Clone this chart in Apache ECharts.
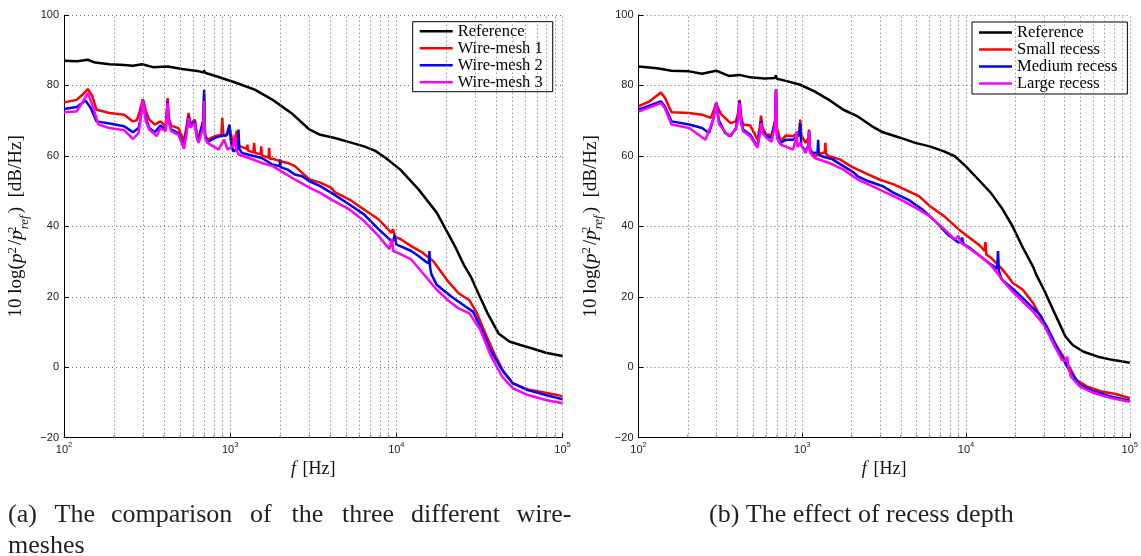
<!DOCTYPE html>
<html><head><meta charset="utf-8">
<script src="https://cdn.jsdelivr.net/npm/echarts@6/dist/echarts.min.js"></script>
<style>html,body{margin:0;padding:0;background:#fff}#c{width:1141px;height:556px}</style>
</head><body><div id="c"></div>
<script>
// ---------- DATA ----------
const namesA = ['Reference', 'Wire-mesh 1', 'Wire-mesh 2', 'Wire-mesh 3'];
const namesB = ['Reference', 'Small recess', 'Medium recess', 'Large recess'];
const gridFreqs = [200,300,400,500,600,700,800,900,1000,2000,3000,4000,5000,6000,7000,8000,9000,10000,20000,30000,40000,50000,60000,70000,80000,90000,100000];
const minorFreqs = [200,300,400,500,600,700,800,900,2000,3000,4000,5000,6000,7000,8000,9000,20000,30000,40000,50000,60000,70000,80000,90000];
const yTicks = { min: -20, max: 100, step: 20 };

// (a) wire-meshes: [frequency Hz, dB/Hz]
const a_ref = [[100,87.0],[120,86.9],[139,87.3],[154,86.5],[188,86.0],[230,85.8],[260,85.6],[295,86.0],[343,85.2],[420,85.4],[513,84.7],[650,84.0],[690,83.7],[697,84.3],[705,83.6],[852,82.4],[1094,80.7],[1404,78.8],[1804,75.9],[2330,72.2],[2997,67.5],[3484,66.0],[4262,65.1],[5220,63.9],[6387,62.7],[7430,61.5],[8640,59.4],[10570,56.1],[13600,50.5],[17500,43.9],[22500,34.4],[25530,29.0],[28230,25.5],[30440,22.0],[35420,15.3],[41200,9.6],[47910,7.3],[55750,6.3],[68200,5.1],[79310,4.1],[100000,3.2]];
const a_wm1 = [[100,75.2],[119,75.9],[130,77.5],[139,79.0],[148,77.0],[157,73.1],[188,72.2],[230,71.7],[260,69.8],[274,70.1],[285,72.5],[298,76.1],[312,72.5],[326,70.3],[352,68.9],[380,69.8],[409,68.4],[415,72.0],[420,76.4],[426,71.0],[441,68.6],[488,67.9],[527,64.2],[545,68.0],[562,72.2],[575,69.0],[590,68.9],[613,70.3],[630,66.0],[645,65.1],[690,70.0],[697,77.4],[705,66.0],[730,64.6],[811,65.6],[885,66.0],[896,70.8],[910,66.0],[942,65.6],[990,68.4],[1041,63.2],[1085,64.0],[1094,67.2],[1105,63.5],[1150,62.7],[1260,62.0],[1270,63.2],[1280,61.5],[1380,61.0],[1393,63.7],[1410,60.8],[1525,60.5],[1537,62.7],[1550,60.2],[1594,59.9],[1705,59.5],[1716,62.3],[1730,59.2],[1804,59.2],[1999,58.5],[2217,58.0],[2451,57.1],[2709,55.2],[2997,53.3],[3484,52.4],[4062,50.9],[4262,49.7],[5220,47.6],[6387,44.8],[7810,42.0],[9320,38.2],[9557,39.2],[9800,37.0],[10570,36.4],[12290,34.4],[14300,32.6],[16630,30.2],[19350,26.0],[20350,24.5],[23670,21.0],[27530,19.0],[30440,15.5],[33680,10.5],[39170,3.5],[44440,-1.5],[50400,-4.6],[61660,-6.3],[79310,-7.2],[100000,-8.2]];
const a_wm2 = [[100,73.3],[119,73.9],[135,75.7],[145,73.5],[157,69.8],[188,69.2],[230,68.4],[260,66.7],[281,67.9],[290,71.0],[298,75.9],[310,71.0],[326,67.9],[352,66.7],[380,68.6],[409,67.5],[415,71.0],[420,75.5],[426,70.0],[441,67.5],[488,66.5],[527,62.7],[545,67.0],[562,71.2],[575,68.5],[590,68.4],[613,69.8],[630,65.5],[645,64.2],[688,70.0],[697,78.8],[706,66.0],[730,63.9],[811,65.1],[874,65.6],[960,66.0],[990,68.9],[1010,64.0],[1041,61.3],[1110,62.0],[1122,67.5],[1135,62.0],[1179,60.8],[1404,59.9],[1548,59.4],[1804,57.5],[1990,57.1],[1999,59.0],[2010,56.8],[2217,56.1],[2451,54.7],[2709,54.2],[2997,52.8],[3484,51.4],[4062,49.5],[5220,46.2],[6387,43.4],[7810,39.2],[9500,35.5],[9800,37.5],[10000,34.8],[10570,34.4],[12290,33.0],[13600,31.6],[15000,30.0],[15700,29.5],[15820,33.0],[15950,28.5],[16230,26.5],[17500,23.4],[21400,20.1],[26180,17.2],[28950,15.8],[32020,11.5],[37250,4.4],[43340,-0.8],[50400,-4.6],[61660,-6.5],[79310,-7.9],[100000,-9.1]];
const a_wm3 = [[100,72.4],[119,72.6],[130,75.5],[139,77.8],[148,74.5],[161,68.9],[188,67.9],[230,67.3],[260,64.8],[281,66.5],[290,71.0],[298,75.9],[310,70.0],[326,67.5],[361,65.6],[380,67.9],[409,67.0],[415,71.0],[420,75.0],[426,70.0],[441,67.0],[488,66.0],[527,62.0],[545,66.0],[562,70.8],[575,68.0],[590,67.9],[613,69.3],[630,65.0],[645,63.7],[688,68.0],[697,75.5],[706,65.0],[730,63.7],[852,61.8],[918,64.6],[965,61.8],[1050,63.0],[1067,66.0],[1085,62.0],[1122,60.4],[1334,59.2],[1548,58.0],[1804,57.1],[2101,55.2],[2451,53.3],[2997,51.0],[3484,49.5],[4062,47.6],[5220,44.8],[6387,41.5],[7810,37.3],[9085,33.5],[9200,34.0],[9400,36.4],[9600,33.0],[10570,32.1],[12290,30.6],[14300,26.9],[15040,25.7],[17500,22.0],[20350,19.1],[23670,16.7],[27530,15.3],[32020,10.6],[37250,3.0],[43340,-2.7],[50400,-6.0],[61660,-7.9],[79310,-9.3],[100000,-10.2]];

// (b) recess depth
const b_ref = [[100,85.4],[130,84.9],[159,84.2],[204,84.0],[244,83.3],[298,84.2],[356,82.7],[414,83.0],[481,82.3],[588,82.0],[680,82.1],[691,82.9],[700,81.9],[794,81.3],[971,80.2],[1188,78.3],[1456,75.9],[1783,73.1],[2182,71.2],[2670,68.4],[3107,66.7],[4000,65.1],[4898,63.7],[5996,62.7],[7340,61.3],[8542,59.9],[9944,57.1],[12170,52.8],[14170,49.5],[16490,45.3],[19190,40.1],[22210,34.0],[25690,28.5],[27030,26.0],[29900,22.0],[34800,15.3],[40500,8.7],[44800,6.3],[52150,4.4],[63850,3.0],[78100,2.1],[100000,1.3]];
const b_small = [[100,74.1],[117,75.5],[137,78.0],[145,76.5],[159,72.4],[204,72.2],[244,71.7],[276,70.8],[288,73.0],[298,75.0],[310,73.0],[321,71.7],[365,69.3],[393,69.8],[405,72.0],[414,75.9],[424,71.0],[435,68.9],[481,68.6],[533,64.6],[550,68.0],[560,71.4],[572,68.0],[604,66.0],[650,66.0],[683,70.0],[691,78.8],[700,68.0],[737,64.2],[794,65.8],[878,65.6],[960,67.0],[971,70.3],[985,66.0],[1047,63.7],[1090,65.0],[1101,67.5],[1115,62.0],[1188,59.9],[1315,60.8],[1375,61.0],[1384,63.7],[1395,60.5],[1456,59.9],[1694,59.0],[1972,57.1],[2182,56.1],[2538,54.7],[2954,53.3],[3616,51.9],[4208,50.5],[5152,48.6],[5996,45.8],[7340,42.9],[8986,39.2],[10460,36.8],[12170,34.5],[13000,33.0],[13130,35.5],[13300,32.0],[14170,31.1],[16490,28.0],[18240,25.5],[19190,24.0],[22210,22.0],[25690,18.2],[29900,12.5],[34800,6.8],[40500,2.1],[47130,-3.6],[54860,-5.5],[67170,-6.9],[82160,-7.6],[100000,-8.8]];
const b_medium = [[100,73.1],[137,75.5],[145,74.0],[159,69.8],[204,68.9],[244,67.9],[270,66.5],[288,71.0],[298,75.0],[310,70.0],[338,66.5],[365,65.6],[393,67.9],[405,71.0],[414,75.5],[424,70.0],[435,67.5],[481,66.0],[533,62.7],[550,67.0],[560,69.8],[572,67.0],[604,65.6],[650,65.1],[683,70.0],[691,78.8],[700,66.0],[737,63.7],[794,64.6],[878,64.6],[960,66.0],[971,69.3],[985,63.0],[1047,61.3],[1090,63.0],[1101,67.0],[1115,61.5],[1158,60.8],[1240,61.0],[1250,64.6],[1262,60.5],[1315,59.9],[1531,59.0],[1783,57.1],[2074,55.2],[2182,54.2],[2538,52.8],[3107,51.4],[3616,49.5],[4427,47.6],[5420,44.8],[6634,41.0],[7721,37.7],[8986,35.4],[9300,35.8],[9452,36.8],[9650,35.0],[10460,34.0],[12170,31.6],[14170,29.2],[15500,28.0],[15680,33.0],[15850,27.5],[16490,25.0],[19190,22.4],[22210,19.6],[25690,16.7],[28430,14.8],[31460,11.1],[36600,4.9],[42600,-0.8],[49580,-5.0],[60700,-6.9],[78100,-8.4],[100000,-9.5]];
const b_large = [[100,72.6],[137,75.0],[145,73.5],[159,68.9],[204,67.9],[256,64.6],[285,70.0],[298,75.2],[310,69.0],[356,65.6],[393,67.5],[405,70.0],[414,75.0],[424,69.0],[435,67.0],[481,65.5],[533,62.3],[550,66.0],[560,69.3],[572,66.5],[604,65.1],[650,64.0],[683,69.0],[691,79.0],[700,65.0],[737,63.2],[878,61.8],[915,65.0],[923,67.0],[935,62.5],[971,63.7],[1047,60.8],[1090,63.0],[1101,67.0],[1115,61.0],[1188,59.4],[1456,58.0],[1783,56.1],[2182,53.3],[2670,51.4],[3268,49.5],[4000,47.6],[4898,45.3],[5996,42.9],[7340,39.2],[8542,36.3],[8986,37.3],[9200,35.5],[9944,34.4],[12170,31.6],[14170,29.0],[15680,26.5],[16490,25.0],[19190,21.5],[22210,18.6],[25690,15.8],[29900,12.0],[34800,5.9],[38500,2.1],[40500,1.8],[41530,3.0],[42000,0.5],[43680,-2.7],[49580,-5.5],[60700,-7.4],[78100,-8.8],[100000,-9.8]];

const captionA1 = ['(a)', 'The', 'comparison', 'of', 'the', 'three', 'different', 'wire-'];
const captionA2 = 'meshes';
const captionB = '(b) The effect of recess depth';

// ---------- STYLE / LAYOUT ----------
const colors = ['#000000', '#ff0000', '#0000ff', '#ff00ff'];
const captionAX = [8, 54.5, 111, 250, 291.5, 342, 411, 516.5];
const SERIF = '"Liberation Serif", "Times New Roman", serif';
const SANS = '"Liberation Sans", Arial, sans-serif';

const gridsCfg = [
  { left: 64, right: 578.5, top: 15, bottom: 118.3 },
  { left: 638.5, right: 4.5, top: 15, bottom: 118.3 }
];

function xAxisCfg(i) {
  return {
    type: 'log', logBase: 10, gridIndex: i, min: 100, max: 100000,
    name: '{i|f}  {n|[Hz]}', nameLocation: 'middle', nameGap: 22,
    nameTextStyle: { rich: {
      i: { fontFamily: SERIF, fontStyle: 'italic', fontSize: 18, color: '#111' },
      n: { fontFamily: SERIF, fontSize: 18, color: '#111' }
    } },
    axisLine: { show: true, onZero: false, lineStyle: { color: '#000', width: 1 } },
    axisTick: { inside: true, length: 5, lineStyle: { color: '#000' } },
    axisLabel: {
      margin: 6,
      formatter: v => '{b|10}{s|' + Math.round(Math.log10(v)) + '}',
      rich: {
        b: { fontFamily: SANS, fontSize: 11, color: '#222', verticalAlign: 'bottom', lineHeight: 12 },
        s: { fontFamily: SANS, fontSize: 7.5, color: '#222', verticalAlign: 'bottom', lineHeight: 8, padding: [0, 0, 7, 0] }
      }
    },
    splitLine: { show: false }
  };
}
const yRich = {
  n: { fontFamily: SERIF, fontSize: 19, color: '#111', verticalAlign: 'bottom', lineHeight: 21, padding: [0, 0, 5, 0] },
  i: { fontFamily: SERIF, fontStyle: 'italic', fontSize: 19, color: '#111', verticalAlign: 'bottom', lineHeight: 21, padding: [0, 0, 5, 0] },
  sp: { fontFamily: SERIF, fontSize: 13, color: '#111', verticalAlign: 'bottom', lineHeight: 13, padding: [0, 2, 12, 0] },
  sp2: { fontFamily: SERIF, fontSize: 13, color: '#111', verticalAlign: 'bottom', lineHeight: 13, padding: [0, 0, 12, 0], width: 1 },
  sb: { fontFamily: SERIF, fontStyle: 'italic', fontSize: 13, color: '#111', verticalAlign: 'bottom', lineHeight: 13, padding: [0, 2, 0, 0] }
};
function yAxisCfg(i) {
  return {
    type: 'value', gridIndex: i, min: yTicks.min, max: yTicks.max, interval: yTicks.step,
    name: '{n|10 log(}{i|p}{sp|2}{n|/}{i|p}{sp2|2}{sb|ref}{n|)  [dB/Hz]}',
    nameLocation: 'middle', nameGap: 33, nameRotate: 90,
    nameTextStyle: { rich: yRich },
    axisLine: { show: true, onZero: false, lineStyle: { color: '#000', width: 1 } },
    axisTick: { show: true, inside: true, length: 5, lineStyle: { color: '#000' } },
    axisLabel: {
      margin: 5, fontFamily: SANS, fontSize: 11, color: '#222',
      formatter: v => (v < 0 ? '\u2212' + Math.abs(v) : String(v))
    },
    splitLine: { show: true, lineStyle: { color: '#666', width: 1, type: [1, 3] } }
  };
}
function gridSeries(i) {
  return [{
    type: 'line', xAxisIndex: i, yAxisIndex: i, data: [], silent: true, z: 1,
    markLine: {
      silent: true, symbol: ['none', 'none'], animation: false,
      label: { show: false },
      lineStyle: { color: '#666', width: 1, type: [1, 3] },
      emphasis: { disabled: true },
      data: gridFreqs.map(f => ({ xAxis: f }))
    }
  }, {
    type: 'scatter', xAxisIndex: i, yAxisIndex: i, silent: true, z: 3,
    data: minorFreqs.map(f => [f, yTicks.min]),
    symbol: 'rect', symbolSize: [1, 3], symbolOffset: [0, -1.5],
    itemStyle: { color: '#555' }, clip: false
  }];
}
function dataSeries(i, names, datasets) {
  return datasets.map((d, k) => ({
    name: names[k], type: 'line', xAxisIndex: i, yAxisIndex: i, data: d,
    symbol: 'none', showSymbol: false, z: 2 + k * 0.1,
    lineStyle: { color: colors[k], width: 2.5 },
    itemStyle: { color: colors[k] },
    emphasis: { disabled: true }
  }));
}
function legendCfg(names, left, top, pad) {
  return {
    data: names, orient: 'vertical', left: left, top: top,
    padding: pad, itemGap: 0, itemWidth: 33, itemHeight: 2.5,
    icon: 'rect',
    borderColor: '#000', borderWidth: 1, backgroundColor: '#fff',
    selectedMode: false,
    textStyle: { fontFamily: SERIF, fontSize: 16.5, color: '#000', lineHeight: 13.3 }
  };
}

const capFont = '26px ' + SERIF;
const graphics = captionA1.map((w, k) => ({
  type: 'text', left: captionAX[k], top: 502,
  style: { text: w, font: capFont, fill: '#231f20' }
}));
graphics.push({ type: 'text', left: 8, top: 533, style: { text: captionA2, font: capFont, fill: '#231f20' } });
graphics.push({ type: 'text', left: 709, top: 502, style: { text: captionB, font: capFont, fill: '#231f20' } });

const chart = echarts.init(document.getElementById('c'), null, { renderer: 'canvas' });
chart.setOption({
  animation: false,
  backgroundColor: '#fff',
  grid: gridsCfg,
  xAxis: [xAxisCfg(0), xAxisCfg(1)],
  yAxis: [yAxisCfg(0), yAxisCfg(1)],
  legend: [
    legendCfg(namesA, 412.7, 21.7, [1, 10, 1, 7]),
    legendCfg(namesB, 972, 22, [2, 10, 2, 7])
  ],
  graphic: graphics,
  series: [].concat(
    gridSeries(0), gridSeries(1),
    dataSeries(0, namesA, [a_ref, a_wm1, a_wm2, a_wm3]),
    dataSeries(1, namesB, [b_ref, b_small, b_medium, b_large])
  )
});
</script></body></html>
